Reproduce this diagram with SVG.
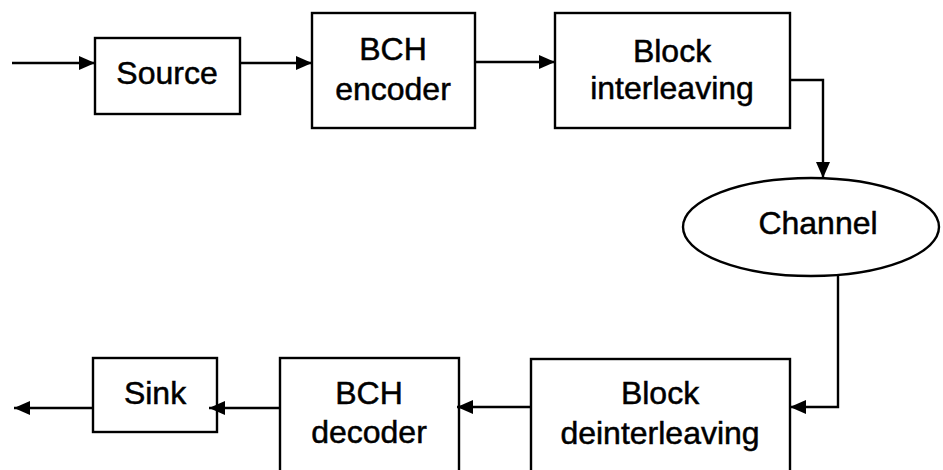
<svg xmlns="http://www.w3.org/2000/svg" width="943" height="470" viewBox="0 0 943 470">
<style>
.box{fill:#fff;stroke:#000;stroke-width:2.4}
.lbl{font-family:"Liberation Sans",Arial,sans-serif;font-size:32px;fill:#000;stroke:#000;stroke-width:0.5;text-anchor:middle}
.conn{fill:none;stroke:#000;stroke-width:2.4}
</style>
<defs>
<marker id="ah" markerUnits="userSpaceOnUse" markerWidth="18" markerHeight="16" refX="16" refY="8" orient="auto">
<path d="M0,1 L16,8 L0,15 Z" fill="#000"/>
</marker>
</defs>
<rect width="943" height="470" fill="#fff"/>
<g id="source"><rect class="box" x="95" y="38" width="145" height="76"/><text class="lbl" x="167" y="84">Source</text></g>
<g id="bch-encoder"><rect class="box" x="312" y="13" width="163" height="115"/><text class="lbl" x="393" y="60">BCH</text><text class="lbl" x="393" y="100">encoder</text></g>
<g id="block-interleaving"><rect class="box" x="555" y="13" width="235" height="115"/><text class="lbl" x="672" y="62">Block</text><text class="lbl" x="672" y="99">interleaving</text></g>
<g id="channel"><ellipse class="box" cx="811" cy="227" rx="128" ry="49"/><text class="lbl" x="818" y="234">Channel</text></g>
<g id="block-deinterleaving"><rect class="box" x="531" y="359" width="259" height="130"/><text class="lbl" x="660" y="404">Block</text><text class="lbl" x="660" y="444">deinterleaving</text></g>
<g id="bch-decoder"><rect class="box" x="280" y="358" width="179" height="130"/><text class="lbl" x="369" y="404">BCH</text><text class="lbl" x="369" y="443">decoder</text></g>
<g id="sink"><rect class="box" x="93" y="358" width="124" height="74"/><text class="lbl" x="155" y="404">Sink</text></g>
<g id="connectors">
<path class="conn" d="M12,63 H95" marker-end="url(#ah)"/>
<path class="conn" d="M240,63 H312" marker-end="url(#ah)"/>
<path class="conn" d="M475,62 H555" marker-end="url(#ah)"/>
<path class="conn" d="M790,80 H823 V178" marker-end="url(#ah)"/>
<path class="conn" d="M838,276 V407 H790" marker-end="url(#ah)"/>
<path class="conn" d="M531,407 H457" marker-end="url(#ah)"/>
<path class="conn" d="M280,408 H209" marker-end="url(#ah)"/>
<path class="conn" d="M93,408 H14" marker-end="url(#ah)"/>
</g>
</svg>
